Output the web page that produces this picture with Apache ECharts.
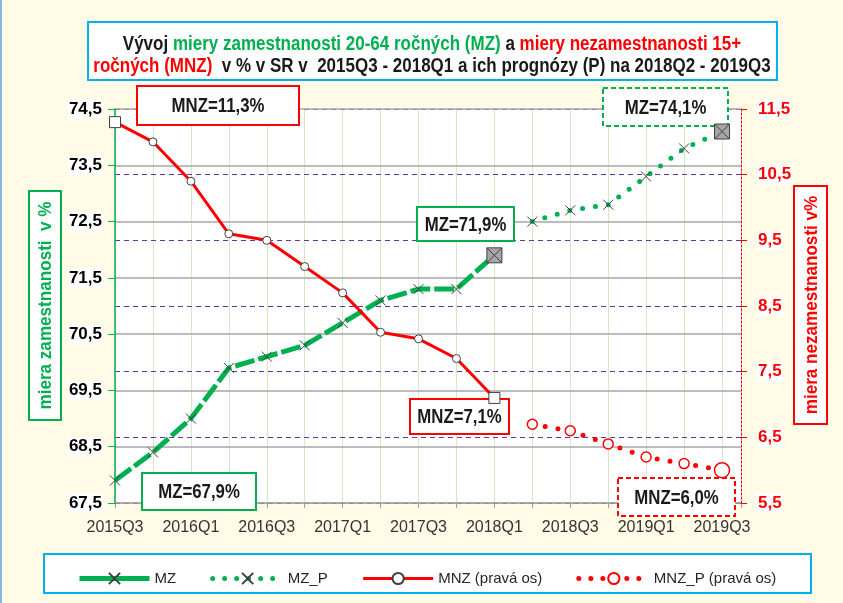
<!DOCTYPE html>
<html>
<head>
<meta charset="utf-8">
<script src="https://cdn.jsdelivr.net/npm/echarts@6/dist/echarts.min.js"></script>
<style>
  html, body { margin: 0; padding: 0; background: #fffbe7; }
  #chart { width: 843px; height: 603px; }
</style>
</head>
<body>
<div id="chart"></div>
<script>
var categories = ['2015Q3', '2015Q4', '2016Q1', '2016Q2', '2016Q3', '2016Q4', '2017Q1', '2017Q2',
  '2017Q3', '2017Q4', '2018Q1', '2018Q2', '2018Q3', '2018Q4', '2019Q1', '2019Q2', '2019Q3'];
// skutočnosť 2015Q3 - 2018Q1
var mz = [67.9, 68.4, 69.0, 69.9, 70.1, 70.3, 70.7, 71.1, 71.3, 71.3, 71.9];
var mnz = [11.3, 11.0, 10.4, 9.6, 9.5, 9.1, 8.7, 8.1, 8.0, 7.7, 7.1];
// prognóza 2018Q2 - 2019Q3
var mzP = [72.5, 72.7, 72.8, 73.3, 73.8, 74.1];
var mnzP = [6.7, 6.6, 6.4, 6.2, 6.1, 6.0];

var FONT = "'Liberation Sans', Arial, sans-serif";
var GREEN = '#00b050';
var RED = '#ff0000';
var X_PATH = 'path://M0,0L10,10M10,0L0,10';
var SQX_PATH = 'path://M0,0L10,0L10,10L0,10Z M0,0L10,10M10,0L0,10';
var BOX_Z = 1.8; // popisy nad mriežkou, ale pod čiarami

function fmt(v) {
  return v.toFixed(1).replace('.', ',');
}

// prvý / posledný bod v rade dostane iný symbol
function toData(arr, start, lastStyle, firstStyle) {
  return arr.map(function (v, i) {
    var item = { value: [start + i, v] };
    if (i === arr.length - 1 && lastStyle) Object.assign(item, lastStyle);
    if (i === 0 && firstStyle) Object.assign(item, firstStyle);
    return item;
  });
}

var grayBox = { symbol: SQX_PATH, symbolSize: 15, itemStyle: { color: '#a6a6a6', borderColor: '#404040', borderWidth: 1 } };
var whiteSquare = { symbol: 'rect', symbolSize: 11 };

// úzke písmo nie je k dispozícii -> text sa zúži cez scaleX
function box(x, y, w, h, color, dashed, text) {
  return {
    type: 'group',
    children: [{
      type: 'rect',
      z: BOX_Z,
      shape: { x: x, y: y, width: w, height: h },
      style: { fill: '#fff', stroke: color, lineWidth: 2, lineDash: dashed ? [5, 3] : null }
    }, {
      type: 'text',
      z: BOX_Z,
      z2: 10,
      x: x + w / 2,
      y: y + h / 2 + 1,
      scaleX: 0.84,
      style: {
        text: text, fill: '#1a1a1a', font: 'bold 20px ' + FONT,
        textAlign: 'center', textVerticalAlign: 'middle'
      }
    }]
  };
}

function axisName(x, y, w, h, color, text) {
  return {
    type: 'group',
    children: [{
      type: 'rect', z: 10, shape: { x: x, y: y, width: w, height: h },
      style: { fill: '#fff', stroke: color, lineWidth: 2 }
    }, {
      type: 'text', z: 11, x: x + w / 2 + 1, y: y + h / 2, rotation: Math.PI / 2, scaleX: 0.9,
      style: { text: text, fill: color, font: 'bold 19px ' + FONT, textAlign: 'center', textVerticalAlign: 'middle' }
    }]
  };
}

var chart = echarts.init(document.getElementById('chart'));

var titleRich = {
  k: { fill: '#1a1a1a', font: 'bold 20px ' + FONT, lineHeight: 22 },
  g: { fill: GREEN, font: 'bold 20px ' + FONT, lineHeight: 22 },
  r: { fill: RED, font: 'bold 20px ' + FONT, lineHeight: 22 }
};

var option = {
  backgroundColor: '#fffbe7',
  animation: false,
  grid: { left: 115, right: 102, top: 109, bottom: 100, show: true, backgroundColor: '#fff', borderWidth: 0 },
  legend: {
    left: 72,
    top: 566,
    itemWidth: 70,
    itemHeight: 14,
    itemGap: 34,
    textStyle: { fontSize: 15, color: '#262626', fontFamily: FONT },
    data: [
      { name: 'MZ', lineStyle: { type: 'solid', width: 5 } },
      { name: 'MZ_P', lineStyle: { type: [0, 12], width: 5, cap: 'round' } },
      { name: 'MNZ (pravá os)', lineStyle: { width: 3 } },
      { name: 'MNZ_P (pravá os)', lineStyle: { type: [0, 12], width: 5, cap: 'round' } }
    ]
  },
  xAxis: {
    type: 'value',
    min: 0,
    max: 16.5,
    interval: 1,
    z: 0,
    axisLine: { lineStyle: { color: '#a0a0a0', width: 1.5 } },
    axisTick: { show: true, length: 5, lineStyle: { color: '#a0a0a0' } },
    axisLabel: {
      margin: 17,
      fontSize: 16,
      color: '#333',
      fontFamily: FONT,
      formatter: function (v) {
        return (Number.isInteger(v) && v % 2 === 0) ? categories[v] : '';
      }
    },
    splitLine: { show: true, lineStyle: { color: '#d5e8c6', width: 1 } }
  },
  yAxis: [{
    type: 'value',
    position: 'left',
    z: 1,
    min: 67.5,
    max: 74.5,
    interval: 1,
    axisLine: { show: true, lineStyle: { color: GREEN, width: 1.5 } },
    axisTick: { show: true, length: 7, lineStyle: { color: GREEN } },
    axisLabel: {
      margin: 12, fontSize: 17, fontWeight: 'bold', color: '#000', fontFamily: FONT,
      backgroundColor: '#fff', padding: [1, 1],
      formatter: fmt
    },
    splitLine: { lineStyle: { color: '#a6a6a6', width: 1.5 } }
  }, {
    type: 'value',
    position: 'right',
    z: 0.5,
    min: 5.5,
    max: 11.5,
    interval: 1,
    axisLine: { show: true, lineStyle: { color: RED, width: 1, type: [2, 2] } },
    axisTick: { show: true, length: 6, lineStyle: { color: RED } },
    axisLabel: {
      margin: 16, fontSize: 17, fontWeight: 'bold', color: RED, fontFamily: FONT,
      backgroundColor: '#fff', padding: [1, 1],
      formatter: fmt
    },
    splitLine: { show: true, lineStyle: { color: '#7030a0', width: 1, type: [5, 4] } }
  }],
  series: [{
    name: 'MZ',
    type: 'line',
    yAxisIndex: 0,
    color: GREEN,
    data: toData(mz, 0, grayBox),
    lineStyle: { color: GREEN, width: 5, type: [20, 4] },
    symbol: X_PATH,
    symbolSize: 10,
    showAllSymbol: true,
    itemStyle: { color: 'rgba(0,0,0,0)', borderColor: '#404040', borderWidth: 1 },
    z: 3
  }, {
    name: 'MZ_P',
    type: 'line',
    yAxisIndex: 0,
    color: GREEN,
    data: toData(mzP, mz.length, grayBox),
    lineStyle: { color: GREEN, width: 5, type: [0, 13], cap: 'round' },
    symbol: X_PATH,
    symbolSize: 10,
    showAllSymbol: true,
    itemStyle: { color: 'rgba(0,0,0,0)', borderColor: '#404040', borderWidth: 1 },
    z: 3
  }, {
    name: 'MNZ (pravá os)',
    type: 'line',
    yAxisIndex: 1,
    color: RED,
    data: toData(mnz, 0, whiteSquare, whiteSquare),
    lineStyle: { color: RED, width: 3 },
    symbol: 'circle',
    symbolSize: 8,
    showAllSymbol: true,
    itemStyle: { color: '#fff', borderColor: '#404040', borderWidth: 1 },
    z: 4
  }, {
    name: 'MNZ_P (pravá os)',
    type: 'line',
    yAxisIndex: 1,
    color: RED,
    data: toData(mnzP, mnz.length, { symbolSize: 15 }),
    lineStyle: { color: RED, width: 5, type: [0, 13], cap: 'round' },
    symbol: 'circle',
    symbolSize: 10,
    showAllSymbol: true,
    itemStyle: { color: '#fff', borderColor: RED, borderWidth: 1.5 },
    z: 4
  }],
  graphic: [
    // rámček grafu vľavo
    { type: 'line', shape: { x1: 1, y1: 0, x2: 1, y2: 603 }, style: { stroke: '#8eb4e3', lineWidth: 2 }, z: 0 },
    // nadpis
    { type: 'rect', shape: { x: 88, y: 22, width: 689, height: 58 }, style: { fill: '#fff', stroke: '#00b0f0', lineWidth: 2 }, z: -1 },
    {
      type: 'text', x: 432, y: 55, scaleX: 0.85, z: 5,
      style: {
        text: '{k|Vývoj }{g|miery zamestnanosti 20-64 ročných (MZ)}{k| a }{r|miery nezamestnanosti 15+}\n' +
          '{r|ročných (MNZ)}{k|  v % v SR v  2015Q3 - 2018Q1 a ich prognózy (P) na 2018Q2 - 2019Q3}',
        rich: titleRich,
        font: 'bold 20px ' + FONT,
        textAlign: 'center',
        textVerticalAlign: 'middle'
      }
    },
    // rámček legendy
    { type: 'rect', shape: { x: 44, y: 554, width: 767, height: 39 }, style: { fill: '#fff', stroke: '#00b0f0', lineWidth: 2 }, z: -1 },
    // názvy osí
    axisName(29, 191, 32, 229, GREEN, 'miera zamestnanosti  v %'),
    axisName(794, 186, 33, 238, RED, 'miera nezamestnanosti v%'),
    // popisy hodnôt
    box(137, 86, 162, 39, RED, false, 'MNZ=' + fmt(mnz[0]) + '%'),
    box(603, 88, 125, 38, GREEN, true, 'MZ=' + fmt(mzP[mzP.length - 1]) + '%'),
    box(417, 207, 97, 34, GREEN, false, 'MZ=' + fmt(mz[mz.length - 1]) + '%'),
    box(142, 473, 114, 37, GREEN, false, 'MZ=' + fmt(mz[0]) + '%'),
    box(410, 399, 99, 35, RED, false, 'MNZ=' + fmt(mnz[mnz.length - 1]) + '%'),
    box(618, 478, 117, 38, RED, true, 'MNZ=' + fmt(mnzP[mnzP.length - 1]) + '%')
  ]
};

chart.setOption(option);
</script>
</body>
</html>
